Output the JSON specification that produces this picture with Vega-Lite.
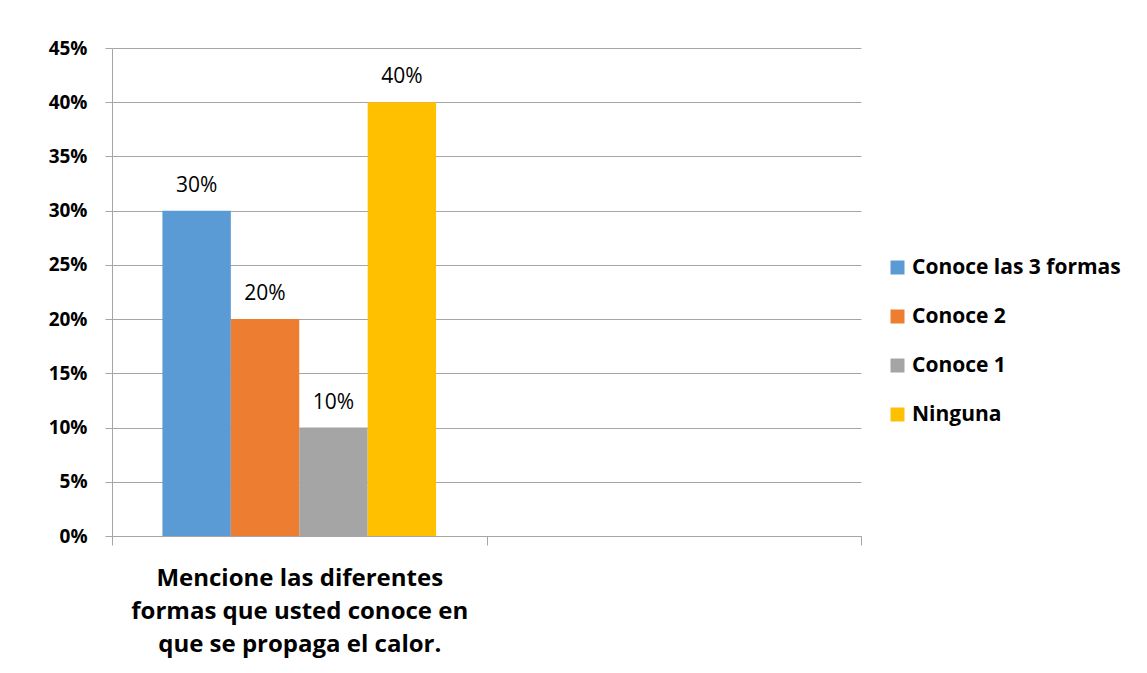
{
  "$schema": "https://vega.github.io/schema/vega-lite/v6.json",
  "width": 749,
  "height": 488,
  "autosize": {"type": "none"},
  "padding": {"left": 112, "top": 48, "right": 286, "bottom": 137},
  "background": "white",
  "config": {
    "view": {"stroke": null},
    "font": "Open Sans",
    "axis": {"domainColor": "#A6A6A6", "tickColor": "#A6A6A6", "gridColor": "#A6A6A6", "labelColor": "#000000"}
  },
  "data": {
    "values": [
      {"pregunta": "P1", "serie": "Conoce las 3 formas", "valor": 0.30},
      {"pregunta": "P1", "serie": "Conoce 2", "valor": 0.20},
      {"pregunta": "P1", "serie": "Conoce 1", "valor": 0.10},
      {"pregunta": "P1", "serie": "Ninguna", "valor": 0.40}
    ]
  },
  "encoding": {
    "x": {
      "field": "pregunta",
      "type": "nominal",
      "scale": {"domain": ["P1", "P2"], "paddingInner": 0, "paddingOuter": 0},
      "axis": {
        "title": null,
        "labelAngle": 0,
        "labelExpr": "datum.value == 'P1' ? ['Mencione las diferentes', 'formas que usted conoce en', 'que se propaga el calor.'] : ''",
        "labelFontSize": 24,
        "labelFontWeight": "bold",
        "labelLineHeight": 33,
        "labelPadding": 21,
        "tickBand": "extent",
        "tickSize": 9,
        "domainColor": "#A6A6A6",
        "labelLimit": 400
      }
    },
    "xOffset": {
      "field": "serie",
      "type": "nominal",
      "sort": ["Conoce las 3 formas", "Conoce 2", "Conoce 1", "Ninguna"],
      "scale": {"paddingInner": 0, "paddingOuter": 0.737}
    },
    "y": {
      "field": "valor",
      "type": "quantitative",
      "scale": {"domain": [0, 0.45], "nice": false},
      "axis": {
        "title": null,
        "format": ".0%",
        "values": [0, 0.05, 0.1, 0.15, 0.2, 0.25, 0.3, 0.35, 0.4, 0.45],
        "labelFontSize": 19,
        "labelFontWeight": "bold",
        "tickSize": 7,
        "labelPadding": 18,
        "grid": true
      }
    }
  },
  "layer": [
    {
      "mark": {"type": "bar"},
      "encoding": {
        "color": {
          "field": "serie",
          "type": "nominal",
          "sort": ["Conoce las 3 formas", "Conoce 2", "Conoce 1", "Ninguna"],
          "scale": {
            "domain": ["Conoce las 3 formas", "Conoce 2", "Conoce 1", "Ninguna"],
            "range": ["#5B9BD5", "#ED7D31", "#A5A5A5", "#FFC000"]
          },
          "legend": {
            "title": null,
            "orient": "none",
            "legendX": 775,
            "legendY": 209,
            "symbolType": "square",
            "symbolSize": 196,
            "symbolStrokeWidth": 0,
            "labelFontSize": 21,
            "labelFontWeight": "bold",
            "labelColor": "#000000",
            "labelOffset": 4,
            "rowPadding": 27,
            "labelLimit": 300
          }
        }
      }
    },
    {
      "mark": {"type": "text", "baseline": "alphabetic", "dy": -19, "fontSize": 21, "color": "#000000"},
      "encoding": {
        "text": {"field": "valor", "type": "quantitative", "format": ".0%"}
      }
    }
  ]
}
